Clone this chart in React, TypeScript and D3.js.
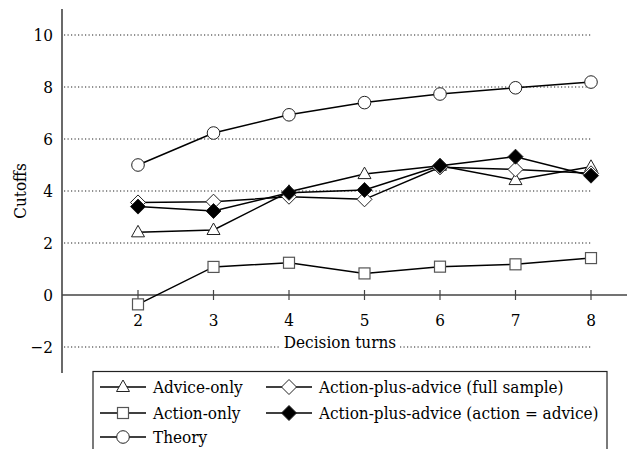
import * as d3 from "d3";
import React from "react";

const turns = [2, 3, 4, 5, 6, 7, 8];
const theory = [5.0, 6.23, 6.93, 7.4, 7.73, 7.97, 8.19];
const adviceOnly = [2.41, 2.5, 3.97, 4.65, 4.97, 4.42, 4.93];
const actionOnly = [-0.36, 1.08, 1.24, 0.83, 1.09, 1.18, 1.42];
const fullSample = [3.56, 3.59, 3.78, 3.68, 4.91, 4.83, 4.68];
const actionEqAdvice = [3.4, 3.23, 3.93, 4.04, 4.97, 5.32, 4.59];
const yTicks = [-2, 0, 2, 4, 6, 8, 10];

const seriesList = [
    { name: "Advice-only", values: adviceOnly, shape: "triangle", fill: "white" },
    { name: "Action-only", values: actionOnly, shape: "square", fill: "white" },
    { name: "Theory", values: theory, shape: "circle", fill: "white" },
    { name: "Action-plus-advice (full sample)", values: fullSample, shape: "diamond", fill: "white" },
    { name: "Action-plus-advice (action = advice)", values: actionEqAdvice, shape: "diamond", fill: "black" },
];

const FONT = "'DejaVu Serif Condensed', 'DejaVu Serif', serif";

function drawMarker(g, shape, fill, x, y) {
    const stroke = "#222";
    if (shape === "circle") {
        g.append("circle").attr("cx", x).attr("cy", y).attr("r", 6.3)
            .attr("fill", fill).attr("stroke", stroke).attr("stroke-width", 1);
    } else if (shape === "square") {
        g.append("rect").attr("x", x - 5.5).attr("y", y - 5.5).attr("width", 11).attr("height", 11)
            .attr("fill", fill).attr("stroke", "#555").attr("stroke-width", 1.2);
    } else if (shape === "triangle") {
        g.append("path").attr("d", `M${x},${y - 7}L${x + 6.5},${y + 4.5}L${x - 6.5},${y + 4.5}Z`)
            .attr("fill", fill).attr("stroke", stroke).attr("stroke-width", 1);
    } else {
        g.append("path").attr("d", `M${x},${y - 7.5}L${x + 7.5},${y}L${x},${y + 7.5}L${x - 7.5},${y}Z`)
            .attr("fill", fill).attr("stroke", stroke).attr("stroke-width", 1);
    }
}

const App = () => {
    const ref = React.useRef(null);

    React.useEffect(() => {
        const svg = d3.select(ref.current);
        svg.selectAll("*").remove();

        const x = d3.scaleLinear().domain([1, 8]).range([62.5, 591]);
        const y = d3.scaleLinear().domain([-3, 11]).range([373, 9]);

        const label = (sel) => sel.style("font-family", FONT)
            .style("font-stretch", "condensed").style("font-size", "17px");

        // gridlines
        svg.append("g").selectAll("line")
            .data(yTicks.filter(d => d !== 0))
            .enter().append("line")
            .attr("x1", 64).attr("x2", x(8))
            .attr("y1", d => y(d)).attr("y2", d => y(d))
            .attr("stroke", "#222").attr("stroke-width", 1.1)
            .attr("stroke-dasharray", "1.2,2.3");

        // y axis
        svg.append("line").attr("x1", 62).attr("x2", 62).attr("y1", y(11)).attr("y2", y(-3))
            .attr("stroke", "#444").attr("stroke-width", 1.6);
        svg.append("g").selectAll("text")
            .data(yTicks).enter().append("text")
            .attr("x", 53).attr("y", d => y(d) + 6)
            .attr("text-anchor", "end")
            .call(label)
            .text(d => (d < 0 ? "\u2212" + Math.abs(d) : d));

        // x axis
        svg.append("line").attr("x1", 62).attr("x2", 627).attr("y1", y(0)).attr("y2", y(0))
            .attr("stroke", "#444").attr("stroke-width", 1.6);
        const xt = svg.append("g");
        xt.selectAll("line").data(turns).enter().append("line")
            .attr("x1", d => x(d)).attr("x2", d => x(d))
            .attr("y1", y(0) - 5).attr("y2", y(0) + 5)
            .attr("stroke", "#444").attr("stroke-width", 1.2);
        xt.selectAll("text").data(turns).enter().append("text")
            .attr("x", d => x(d)).attr("y", y(0) + 31)
            .attr("text-anchor", "middle")
            .call(label)
            .text(d => d);

        // axis titles
        svg.append("rect").attr("x", 281).attr("y", 335).attr("width", 118).attr("height", 20).attr("fill", "white");
        svg.append("text").attr("x", 340).attr("y", 348)
            .attr("text-anchor", "middle")
            .call(label)
            .text("Decision turns");
        svg.append("text")
            .attr("transform", "translate(26,191) rotate(-90)")
            .attr("text-anchor", "middle")
            .call(label)
            .text("Cutoffs");

        // series
        const line = d3.line().x((d, i) => x(turns[i])).y(d => y(d));
        seriesList.forEach(s => {
            svg.append("path").attr("d", line(s.values))
                .attr("fill", "none").attr("stroke", "black").attr("stroke-width", 1.5);
        });
        seriesList.forEach(s => {
            const g = svg.append("g");
            s.values.forEach((v, i) => drawMarker(g, s.shape, s.fill, x(turns[i]), y(v)));
        });

        // legend
        const lg = svg.append("g");
        lg.append("rect").attr("x", 93).attr("y", 371.5).attr("width", 514).attr("height", 90)
            .attr("fill", "white").attr("stroke", "#222").attr("stroke-width", 1.2);
        const slots = [
            [100, 387], [100, 413], [100, 437], [266, 387], [266, 413],
        ];
        seriesList.forEach((s, i) => {
            const [lx, ly] = slots[i];
            lg.append("line").attr("x1", lx).attr("x2", lx + 46).attr("y1", ly).attr("y2", ly)
                .attr("stroke", "black").attr("stroke-width", 1.3);
            drawMarker(lg, s.shape, s.fill, lx + 23, ly);
            lg.append("text").attr("x", lx + 53).attr("y", ly + 6)
                .call(label)
                .text(s.name);
        });
    }, []);

    return (
        <svg ref={ref} width={627} height={449}
            style={{ position: "absolute", left: 0, top: 0, background: "white" }} />
    );
};

export default App;
